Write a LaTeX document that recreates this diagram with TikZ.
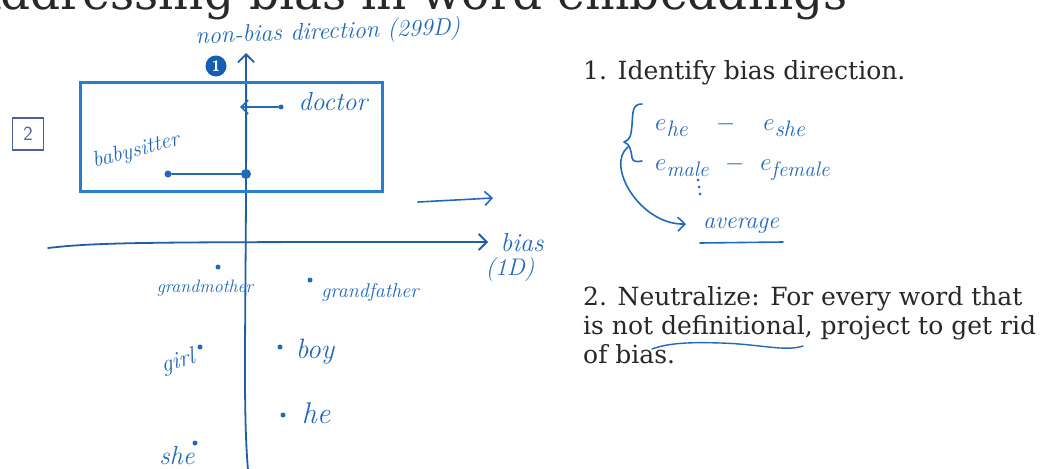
\documentclass[tikz,border=0pt]{standalone}
\usepackage{fontspec}
\newfontfamily\serif{DejaVu Serif}
\usetikzlibrary{arrows.meta}
\definecolor{ink}{RGB}{35,105,185}
\definecolor{boxblue}{RGB}{40,125,205}
\definecolor{dotblue}{RGB}{20,95,180}
\definecolor{slate}{RGB}{80,95,150}
\definecolor{txt}{RGB}{40,40,40}
\tikzset{
  barb/.tip={Straight Barb[length=7pt,width=14pt]},
  hand/.style={text=ink, font=\fontsize{#1}{#1}\selectfont\itshape, inner sep=0pt},
  hand/.default=24,
  pen/.style={draw=ink, line width=1.6pt, line cap=round, line join=round},
  axis/.style={draw=ink!90!black, line width=1.8pt, line cap=round},
  dotp/.style={circle, fill=ink, inner sep=0pt, minimum size=#1},
  dotp/.default=5pt,
  printed/.style={text=txt, font=\serif\fontsize{25}{28}\selectfont, inner sep=0pt, anchor=base west},
}
\begin{document}
\begin{tikzpicture}[x=1pt,y=-1pt]
\useasboundingbox (0,0) rectangle (1048,468);
\fill[white] (0,0) rectangle (1048,468);

% title (cut at the top)
\node[anchor=base west, text=txt, font=\serif\fontsize{47}{47}\selectfont, inner sep=0pt] (title) at (0,10) {\llap{A}ddressing bias in word embeddings};

% axes
\coordinate (vbot) at (248,470);
\coordinate (vtop) at (246,53);
\draw[axis, -{Straight Barb[length=8pt,width=16pt]}] (vbot) .. controls (242,400) and (247,300) .. (vtop);
\coordinate (hl) at (48,248);
\coordinate (hr) at (488,242);
\draw[axis, -{Straight Barb[length=8pt,width=16pt]}] (hl) .. controls (100,242) and (150,242) .. (hr);
\coordinate (ea) at (418,202);
\coordinate (eb) at (493,198);
\draw[pen, -{barb}] (ea) -- (eb);
\node[hand=26] (bias) at (522,243) {bias};
\node[hand=24] (oned) at (510,270) {(1D)};

\node[hand=24, rotate=2] (nbl) at (328,33) {non-bias direction (299D)};
\node[circle, fill=dotblue, text=white, font=\sffamily\bfseries\fontsize{15}{15}\selectfont, inner sep=0pt, minimum size=21pt] (one) at (216,66) {1};

% neutralize box
\node[draw=boxblue, line width=3pt, minimum width=302pt, minimum height=108pt, inner sep=0pt] (frame) at (231,137) {};
\node[draw=slate, line width=1.6pt, minimum width=31pt, minimum height=32pt, text=slate, font=\sffamily\fontsize{20}{20}\selectfont] (two) at (28,134) {2};

% doctor
\node[dotp] (docdot) at (281,107) {};
\coordinate (docproj) at (240,107);
\draw[pen, -{barb}] (docdot) -- (docproj);
\node[hand=26] (doctor) at (333,102) {doctor};

% babysitter
\node[dotp=7pt] (bsdot) at (168,174) {};
\node[dotp=10pt] (bsproj) at (246,174) {};
\draw[pen] (bsdot) -- (bsproj);
\node[hand=22, rotate=15] (babysitter) at (136,151) {babysitter};

% lower words
\node[dotp] (gmdot) at (218,267) {};
\node[hand=18] (gm) at (205,288) {grandmother};
\node[dotp] (gfdot) at (310,280) {};
\node[hand=20] (gf) at (370,292) {grandfather};
\node[dotp] (girldot) at (200,347) {};
\node[hand=24, rotate=15] (girl) at (178,362) {girl};
\node[dotp] (boydot) at (280,347) {};
\node[hand=28] (boy) at (315,352) {boy};
\node[dotp] (hedot) at (283,415) {};
\node[hand=30] (he) at (316,413) {he};
\node[dotp] (shedot) at (195,443) {};
\node[hand=26] (she) at (177,456) {she};

% right side: step 1
\node[printed] (s1) at (583,80) {1. Identify bias direction.};
\draw[pen] (642,104) .. controls (632,104) and (633,112) .. (632,125) .. controls (631,136) and (630,140) .. (624,142) .. controls (630,144) and (631,150) .. (632,158) .. controls (633,162) and (637,162) .. (642,161);
\node[hand=32, anchor=base west] (ehe) at (655,130) {$e_{\mathit{he}}\ \ -\ \ e_{\mathit{she}}$};
\node[hand=30, anchor=base west] (emale) at (655,170) {$e_{\mathit{male}}\ -\ e_{\mathit{female}}$};
\fill[ink] (698,180) circle (1.5pt) (699,187) circle (1.5pt) (700,194) circle (1.5pt);
\coordinate (ca) at (628,147);
\coordinate (cb) at (686,224);
\draw[pen, -{barb}] (ca) .. controls (605,165) and (640,225) .. (cb);
\node[hand=24] (avg) at (741,226) {average};
\draw[pen] (700,243) -- (783,242);

% step 2
\node[printed] (s2a) at (583,305) {2. Neutralize: For every word that};
\node[printed] (s2b) at (583,334) {is not definitional, project to get rid};
\node[printed] (s2c) at (583,363) {of bias.};
\draw[pen, line width=1.4pt] (652,349) .. controls (668,343) and (690,342) .. (720,343) .. controls (760,344) and (785,352) .. (803,346);
\end{tikzpicture}
\end{document}
